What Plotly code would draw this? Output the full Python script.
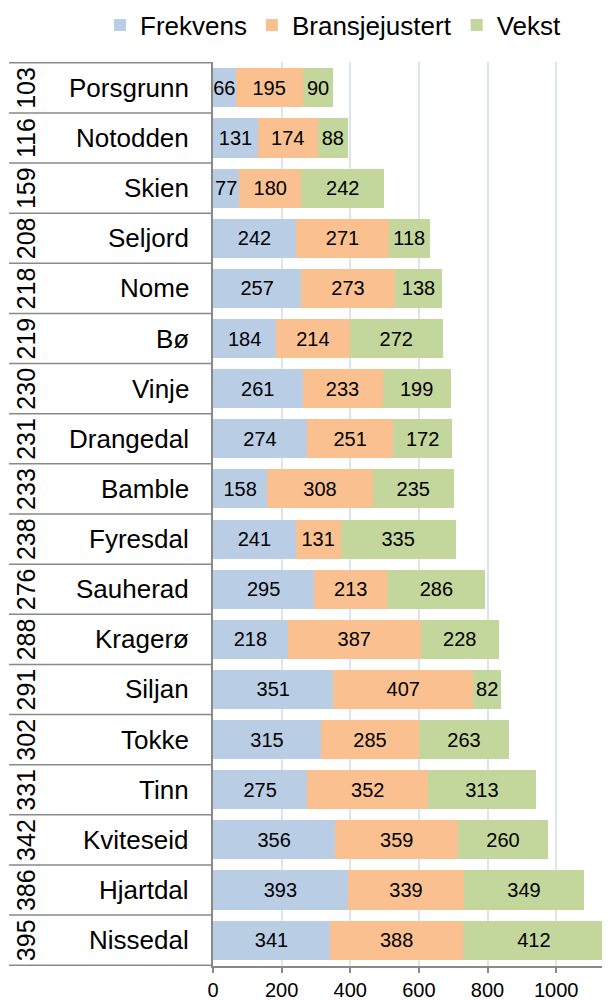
import plotly.graph_objects as go

ranks = [103, 116, 159, 208, 218, 219, 230, 231, 233, 238, 276, 288, 291, 302, 331, 342, 386, 395]
names = ["Porsgrunn", "Notodden", "Skien", "Seljord", "Nome", "Bø", "Vinje", "Drangedal", "Bamble",
         "Fyresdal", "Sauherad", "Kragerø", "Siljan", "Tokke", "Tinn", "Kviteseid", "Hjartdal", "Nissedal"]
frekvens = [66, 131, 77, 242, 257, 184, 261, 274, 158, 241, 295, 218, 351, 315, 275, 356, 393, 341]
bransje = [195, 174, 180, 271, 273, 214, 233, 251, 308, 131, 213, 387, 407, 285, 352, 359, 339, 388]
vekst = [90, 88, 242, 118, 138, 272, 199, 172, 235, 335, 286, 228, 82, 263, 313, 260, 349, 412]

series = [("Frekvens", frekvens, "#B9CDE5"),
          ("Bransjejustert", bransje, "#FAC090"),
          ("Vekst", vekst, "#C3D69B")]

FONT = "Liberation Sans, Arial, sans-serif"
OFF = 8  # page body margin offset
W, H = 610 - OFF, 1000 - OFF
ML, MR, MT, MB = 213 - OFF, 0, 62 - OFF, 34
PW = W - ML - MR
PH = H - MT - MB

fig = go.Figure()
for name, vals, col in series:
    fig.add_trace(go.Bar(
        y=names, x=vals, name=name, orientation="h",
        marker=dict(color=col, line=dict(width=0)),
        texttemplate="%{x}", textposition="inside", insidetextanchor="middle",
        textangle=0, constraintext="none",
        textfont=dict(family=FONT, size=20, color="#000000"),
        hoverinfo="skip",
    ))

def px2paper(px):  # page x -> paper
    return (px - OFF - ML) / PW

def py2paper(py):  # page y -> paper
    return (H - MB - (py - OFF)) / PH

shapes = []
for i in range(len(names) + 1):
    shapes.append(dict(type="line", xref="paper", yref="y",
                       x0=px2paper(9), x1=0, y0=i - 0.5, y1=i - 0.5,
                       line=dict(color="#898989", width=1.5)))

annotations = []
for i, (r, n) in enumerate(zip(ranks, names)):
    annotations.append(dict(xref="paper", yref="y", x=px2paper(191), y=n, text=n,
                            xanchor="right", yanchor="middle", showarrow=False,
                            font=dict(family=FONT, size=26, color="#000000")))
    annotations.append(dict(xref="paper", yref="y", x=px2paper(26), y=n, text=str(r),
                            textangle=-90, xanchor="center", yanchor="middle", showarrow=False,
                            font=dict(family=FONT, size=25, color="#000000")))

fig.update_layout(
    width=W, height=H,
    margin=dict(l=ML, r=MR, t=MT, b=MB, pad=0, autoexpand=False),
    barmode="stack", bargap=0.22,
    paper_bgcolor="white", plot_bgcolor="white",
    font=dict(family=FONT, color="#000000"),
    showlegend=True,
    legend=dict(orientation="h", xref="paper", yref="paper",
                x=px2paper(100), y=py2paper(25), xanchor="left", yanchor="middle",
                font=dict(family=FONT, size=26, color="#000000"),
                traceorder="normal", itemclick=False, itemwidth=30,
                bgcolor="rgba(0,0,0,0)"),
    uniformtext=dict(minsize=20, mode="show"),
    xaxis=dict(range=[0, 1157], tickvals=[0, 200, 400, 600, 800, 1000],
               showgrid=True, gridcolor="#DCE4F0", gridwidth=1.5,
               showline=True, linecolor="#898989", linewidth=1.5,
               ticks="outside", ticklen=5, tickcolor="#898989", tickwidth=1.5,
               zeroline=False,
               tickfont=dict(family=FONT, size=20, color="#000000")),
    yaxis=dict(autorange="reversed", showticklabels=False, showgrid=False,
               showline=True, linecolor="#898989", linewidth=1.5, ticks="",
               zeroline=False),
    shapes=shapes, annotations=annotations,
)

fig.write_html("out.html")
